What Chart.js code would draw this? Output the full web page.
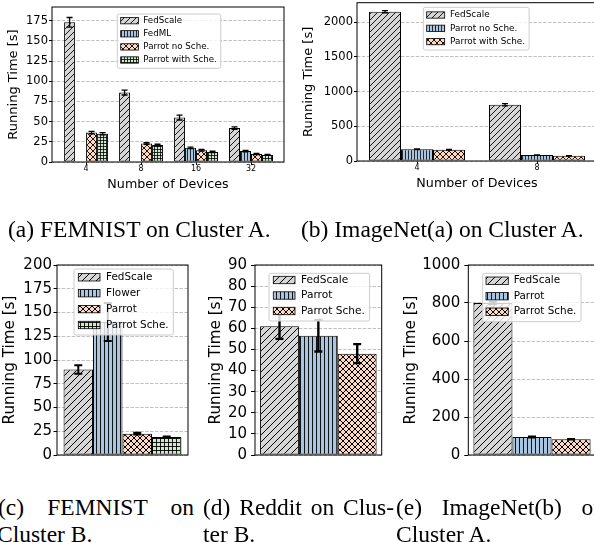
<!DOCTYPE html>
<html><head><meta charset="utf-8">
<script src="https://cdn.jsdelivr.net/npm/chart.js@4/dist/chart.umd.min.js"></script>
<style>
html,body{margin:0;padding:0;width:594px;height:542px;overflow:hidden;background:#fff;position:relative}
canvas{position:absolute}
.cap{position:absolute;font-family:'Liberation Serif','Times New Roman',serif;font-size:23.5px;line-height:26.5px;white-space:nowrap;color:#000}
.just{text-align:justify;text-align-last:justify;white-space:normal}
</style></head><body>
<canvas id="ca" width="300" height="220" style="left:0px;top:-20px"></canvas>
<canvas id="cb" width="320" height="220" style="left:290px;top:-20px"></canvas>
<canvas id="cc" width="210" height="230" style="left:-10px;top:240px"></canvas>
<canvas id="cd" width="205" height="230" style="left:190px;top:240px"></canvas>
<canvas id="ce" width="225" height="230" style="left:385px;top:240px"></canvas>

<div class="cap" style="left:8px;top:216px">(a) FEMNIST on Cluster A.</div>
<div class="cap" style="left:301px;top:216px">(b) ImageNet(a) on Cluster A.</div>
<div class="cap just" style="left:-2px;top:494px;width:196px">(c) FEMNIST on</div>
<div class="cap" style="left:-3px;top:520.5px">Cluster B.</div>
<div class="cap just" style="left:203px;top:494px;width:191px">(d) Reddit on Clus-</div>
<div class="cap" style="left:203px;top:520.5px">ter B.</div>
<div class="cap just" style="left:396px;top:494px;width:209px">(e) ImageNet(b) on</div>
<div class="cap" style="left:396px;top:520.5px">Cluster A.</div>

<script>
// ---------------- data ----------------
const devicesA = ['4', '8', '16', '32'];
const fedscaleA = [173, 86, 55, 42];
const fedscaleErrA = [6, 3, 3, 1.5];
const fedmlA = [0, 0, 17.5, 13.5];
const fedmlErrA = [0, 0, 1, 0.8];
const parrotNoScheA = [36.5, 23, 14.5, 10];
const parrotNoScheErrA = [1.5, 1, 1, 0.8];
const parrotWithScheA = [35, 21, 12.5, 8.8];
const parrotWithScheErrA = [1.5, 1, 0.8, 0.6];
const yTicksA = [0, 25, 50, 75, 100, 125, 150, 175];

const devicesB = ['4', '8'];
const fedscaleB = [2150, 810];
const fedscaleErrB = [15, 15];
const parrotNoScheB = [170, 85];
const parrotNoScheErrB = [5, 3];
const parrotWithScheB = [162, 75];
const parrotWithScheErrB = [4, 3];
const yTicksB = [0, 500, 1000, 1500, 2000];

const seriesC = ['FedScale', 'Flower', 'Parrot', 'Parrot Sche.'];
const valuesC = [90, 140, 22.5, 19];
const errorsC = [4.5, 20, 1, 0.6];
const yTicksC = [0, 25, 50, 75, 100, 125, 150, 175, 200];

const seriesD = ['FedScale', 'Parrot', 'Parrot Sche.'];
const valuesD = [61, 56.5, 48];
const errorsD = [6, 7.5, 4.5];
const yTicksD = [0, 10, 20, 30, 40, 50, 60, 70, 80, 90];

const seriesE = ['FedScale', 'Parrot', 'Parrot Sche.'];
const valuesE = [800, 95, 83];
const errorsE = [6, 3, 1];
const yTicksE = [0, 200, 400, 600, 800, 1000];

// ---------------- styles ----------------
const FONT = '"DejaVu Sans", sans-serif';
Chart.defaults.font.family = FONT;
Chart.defaults.color = '#000';

function hatch(bg, kind, s, lw) {
  const c = document.createElement('canvas');
  c.width = s; c.height = s;
  const g = c.getContext('2d');
  g.fillStyle = bg; g.fillRect(0, 0, s, s);
  g.strokeStyle = '#000'; g.lineWidth = lw;
  g.beginPath();
  if (kind === '/' || kind === 'x') {
    for (let k = -1; k <= 1; k++) { g.moveTo(k * s, s); g.lineTo(k * s + s, 0); }
  }
  if (kind === 'x') {
    for (let k = -1; k <= 1; k++) { g.moveTo(k * s, 0); g.lineTo(k * s + s, s); }
  }
  const m = Math.floor(s / 2) + 0.5;
  if (kind === '|' || kind === '+') { g.moveTo(m, 0); g.lineTo(m, s); }
  if (kind === '+') { g.moveTo(0, m); g.lineTo(s, m); }
  g.stroke();
  return g.createPattern(c, 'repeat');
}
const GRAY = '#d6d6d6', BLUE = '#a9c5e0', PEACH = '#fdd9c4', GREEN = '#cfeacb';
const patTop = {
  gray: hatch(GRAY, '/', 6, 0.9), blue: hatch(BLUE, '|', 3, 0.8),
  peach: hatch(PEACH, 'x', 6, 0.9), green: hatch(GREEN, '+', 3, 0.8)
};
const patBot = {
  gray: hatch(GRAY, '/', 7, 1), blue: hatch(BLUE, '|', 4, 0.9),
  peach: hatch(PEACH, 'x', 6, 1), green: hatch(GREEN, '+', 4, 0.9)
};

// ---------------- plugins ----------------
const errPlugin = {
  id: 'errBars',
  afterDatasetsDraw(chart, args, opts) {
    const ctx = chart.ctx, ys = chart.scales.y;
    ctx.save();
    ctx.strokeStyle = '#000'; ctx.lineWidth = opts.lw;
    chart.data.datasets.forEach((ds, i) => {
      const meta = chart.getDatasetMeta(i);
      meta.data.forEach((bar, j) => {
        const d = ds.data[j];
        const v = (typeof d === 'object') ? d.y : d;
        const e = ds.errors[j];
        if (!e) return;
        const x = bar.x, y1 = ys.getPixelForValue(v - e), y2 = ys.getPixelForValue(v + e);
        ctx.beginPath();
        ctx.moveTo(x, y1); ctx.lineTo(x, y2);
        ctx.moveTo(x - opts.cap, y1); ctx.lineTo(x + opts.cap, y1);
        ctx.moveTo(x - opts.cap, y2); ctx.lineTo(x + opts.cap, y2);
        ctx.stroke();
      });
    });
    ctx.restore();
  }
};
const framePlugin = {
  id: 'frame',
  afterDatasetsDraw(chart) {
    const a = chart.chartArea, ctx = chart.ctx;
    ctx.save();
    ctx.strokeStyle = '#000'; ctx.lineWidth = 1;
    ctx.strokeRect(a.left, a.top, a.right - a.left, a.bottom - a.top);
    ctx.restore();
  }
};
function rr(ctx, x, y, w, h, r) {
  ctx.beginPath();
  ctx.moveTo(x + r, y); ctx.lineTo(x + w - r, y); ctx.quadraticCurveTo(x + w, y, x + w, y + r);
  ctx.lineTo(x + w, y + h - r); ctx.quadraticCurveTo(x + w, y + h, x + w - r, y + h);
  ctx.lineTo(x + r, y + h); ctx.quadraticCurveTo(x, y + h, x, y + h - r);
  ctx.lineTo(x, y + r); ctx.quadraticCurveTo(x, y, x + r, y);
  ctx.closePath();
}
const legendPlugin = {
  id: 'mplLegend',
  afterDraw(chart, args, o) {
    const ctx = chart.ctx;
    const cv = chart.canvas;
    const offX = parseFloat(cv.style.left), offY = parseFloat(cv.style.top);
    const x = o.x - offX, y = o.y - offY;
    ctx.save();
    ctx.font = o.font + 'px ' + FONT;
    let mw = 0;
    chart.data.datasets.forEach(ds => { mw = Math.max(mw, ctx.measureText(ds.label).width); });
    const w = o.textX + mw + 0.45 * o.font;
    rr(ctx, x, y, w, o.h, 2);
    ctx.fillStyle = 'rgba(255,255,255,0.8)'; ctx.fill();
    ctx.strokeStyle = '#cccccc'; ctx.lineWidth = 1; ctx.stroke();
    chart.data.datasets.forEach((ds, i) => {
      const cy = y + o.firstRow + i * o.rowH;
      ctx.fillStyle = ds.backgroundColor;
      ctx.fillRect(x + o.swX, cy - o.swH / 2, o.swW, o.swH);
      ctx.strokeStyle = '#000'; ctx.lineWidth = 0.8;
      ctx.strokeRect(x + o.swX, cy - o.swH / 2, o.swW, o.swH);
      ctx.fillStyle = '#000'; ctx.textBaseline = 'middle'; ctx.textAlign = 'left';
      ctx.fillText(ds.label, x + o.textX, cy);
    });
    ctx.restore();
  }
};

// ---------------- builders ----------------
function yScale(ticksArr, max, fs, tfs, tpad, width, tl, pad) {
  return {
    type: 'linear', min: 0, max: max,
    afterBuildTicks: s => { s.ticks = ticksArr.map(v => ({ value: v })); },
    afterFit: s => { s.width = width; },
    ticks: { font: { family: FONT, size: fs }, color: '#000', padding: pad, includeBounds: false, autoSkip: false, callback: v => String(v) },
    grid: { color: '#b0b0b0', lineWidth: 0.8, drawTicks: true, tickLength: tl, tickColor: '#000', tickWidth: 1 },
    border: { display: false, dash: [3.4, 1.5] },
    title: { display: true, text: 'Running Time [s]', font: { family: FONT, size: tfs }, color: '#000', padding: { top: tpad, bottom: 0 } }
  };
}
function xLinear(cats, min, max, height, tpadBottom) {
  return {
    type: 'linear', min: min, max: max, offset: false,
    afterBuildTicks: s => { s.ticks = cats.map((c, i) => ({ value: i })); },
    afterFit: s => { s.height = height; },
    ticks: { callback: v => cats[v], font: { family: FONT, size: 8, lineHeight: 1 }, padding: 0, color: '#000', maxRotation: 0, autoSkip: false },
    grid: { drawOnChartArea: false, drawTicks: true, tickLength: 3, tickColor: '#000', tickWidth: 1, offset: false },
    border: { display: false },
    title: { display: true, text: 'Number of Devices', font: { family: FONT, size: 12.7 }, color: '#000', padding: { top: 0, bottom: tpadBottom } }
  };
}
function xSingle(height) {
  return {
    type: 'category',
    afterFit: s => { s.height = height; },
    ticks: { display: false },
    grid: { display: false },
    border: { display: false }
  };
}
function barDs(label, pat, vals, errs, cp, isLinear) {
  return {
    label: label, backgroundColor: pat, borderColor: '#000', borderWidth: 1, borderSkipped: false,
    categoryPercentage: cp, barPercentage: 1,
    data: isLinear ? vals.map((v, i) => ({ x: i, y: v })) : vals,
    errors: errs
  };
}
function make(id, labels, datasets, padding, x, y, legend, err) {
  return new Chart(document.getElementById(id), {
    type: 'bar',
    data: { labels: labels, datasets: datasets },
    options: {
      responsive: false, animation: false, events: [],
      layout: { padding: padding },
      plugins: { legend: { display: false }, tooltip: { enabled: false }, mplLegend: legend, errBars: err },
      scales: { x: x, y: y }
    },
    plugins: [errPlugin, framePlugin, legendPlugin]
  });
}

// (a)
make('ca', devicesA, [
  barDs('FedScale', patTop.gray, fedscaleA, fedscaleErrA, 0.8, true),
  barDs('FedML', patTop.blue, fedmlA, fedmlErrA, 0.8, true),
  barDs('Parrot no Sche.', patTop.peach, parrotNoScheA, parrotNoScheErrA, 0.8, true),
  barDs('Parrot with Sche.', patTop.green, parrotWithScheA, parrotWithScheErrA, 0.8, true)
], { top: 27, right: 16, left: 0, bottom: 0 },
  xLinear(devicesA, -0.62, 3.6, 38, 7.4),
  yScale(yTicksA, 192, 11.5, 13, 6.2, 52, 3, 1),
  { x: 117.3, y: 14, h: 54.3, firstRow: 6.7, rowH: 13.1, swX: 3.4, swW: 17.7, swH: 6.3, textX: 26, font: 8.7 },
  { lw: 1.3, cap: 3 });

// (b)
make('cb', devicesB, [
  barDs('FedScale', patTop.gray, fedscaleB, fedscaleErrB, 0.8, true),
  barDs('Parrot no Sche.', patTop.blue, parrotNoScheB, parrotNoScheErrB, 0.8, true),
  barDs('Parrot with Sche.', patTop.peach, parrotWithScheB, parrotWithScheErrB, 0.8, true)
], { top: 22.7, right: 13, left: 0, bottom: 0 },
  xLinear(devicesB, -0.5, 1.5, 39, 8.4),
  yScale(yTicksB, 2280, 11.5, 13, 11.2, 67, 3, 1),
  { x: 423.3, y: 7.3, h: 42.7, firstRow: 7.7, rowH: 13.3, swX: 3.4, swW: 18, swH: 6.3, textX: 26.7, font: 8.9 },
  { lw: 1.3, cap: 3 });

// (c)
make('cc', [''], seriesC.map((s, i) => barDs(s, [patBot.gray, patBot.blue, patBot.peach, patBot.green][i], [valuesC[i]], [errorsC[i]], 0.9, false)),
  { top: 25, right: 12, left: 0, bottom: 0 },
  xSingle(15),
  yScale(yTicksC, 200, 15, 15.2, 11.4, 67, 3.5, 1.5),
  { x: 74, y: 269, h: 66, firstRow: 8.3, rowH: 15.9, swX: 4.3, swW: 21.7, swH: 7.4, textX: 32, font: 10.4 },
  { lw: 2, cap: 4 });

// (d)
make('cd', [''], seriesD.map((s, i) => barDs(s, [patBot.gray, patBot.blue, patBot.peach][i], [valuesD[i]], [errorsD[i]], 0.92, false)),
  { top: 25, right: 13.3, left: 0, bottom: 0 },
  xSingle(15),
  yScale(yTicksD, 90, 15, 15.2, 16.9, 65, 4, 4),
  { x: 269, y: 273.3, h: 47.7, firstRow: 6.7, rowH: 15.5, swX: 4.3, swW: 21.7, swH: 7.4, textX: 32, font: 10.6 },
  { lw: 2.4, cap: 4 });

// (e)
make('ce', [''], seriesE.map((s, i) => barDs(s, [patBot.gray, patBot.blue, patBot.peach][i], [valuesE[i]], [errorsE[i]], 0.92, false)),
  { top: 25, right: 14.3, left: 0, bottom: 0 },
  xSingle(15),
  yScale(yTicksE, 1000, 15, 15.2, 17.4, 83.3, 4, 4),
  { x: 482.7, y: 273.3, h: 48.4, firstRow: 7.4, rowH: 15.5, swX: 3.3, swW: 22.3, swH: 7.4, textX: 31, font: 10.4 },
  { lw: 2, cap: 4 });
</script>
</body></html>
